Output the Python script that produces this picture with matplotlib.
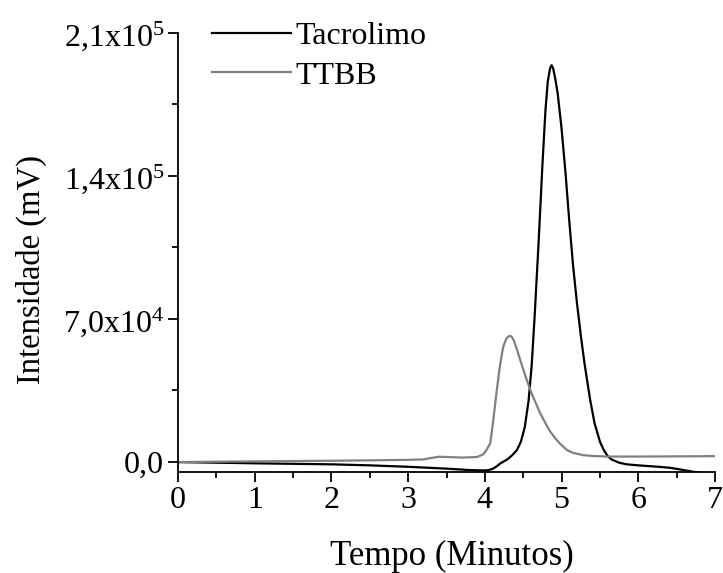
import matplotlib
matplotlib.use("Agg")
import matplotlib.pyplot as plt
from matplotlib.ticker import MultipleLocator

plt.rcParams['font.family'] = ['Liberation Serif', 'DejaVu Serif']
plt.rcParams['mathtext.fontset'] = 'custom'
plt.rcParams['mathtext.rm'] = 'Liberation Serif'
plt.rcParams['mathtext.it'] = 'Liberation Serif:italic'

# Tacrolimo (black)
tac_t = [0.0, 0.5, 1.0, 1.5, 2.0, 2.5, 3.0, 3.5, 3.8, 4.0, 4.05, 4.1, 4.15, 4.2, 4.3, 4.36, 4.42,
         4.47, 4.52, 4.57, 4.61, 4.65, 4.70, 4.75, 4.79, 4.82, 4.85, 4.87, 4.89, 4.92,
         4.95, 5.00, 5.05, 5.10, 5.15, 5.20, 5.25, 5.30, 5.37, 5.43, 5.50, 5.55, 5.60,
         5.65, 5.75, 5.85, 6.0, 6.15, 6.3, 6.41, 6.5, 6.59, 6.71, 6.85, 7.0]
tac_v = [0, -300, -600, -850, -1100, -1600, -2300, -3200, -3900, -4100, -3900, -3300, -2200, -700, 1500, 3500, 6000,
         10000, 17000, 30000, 47000, 72000, 107000, 145000, 172000, 186000, 192500, 194000, 192500, 187000,
         180000, 163000, 142000, 118000, 96000, 78000, 62000, 48000, 31000, 19000, 10000, 5900, 3000,
         1300, -300, -1100, -1600, -2000, -2400, -2800, -3300, -3900, -4700, -5300, -5600]

# TTBB (gray)
ttbb_t = [0.0, 0.5, 1.0, 1.5, 2.0, 2.5, 3.0, 3.2, 3.3, 3.4, 3.5, 3.7, 3.9, 3.98, 4.02,
          4.07, 4.11, 4.155, 4.2, 4.24, 4.28, 4.31, 4.33, 4.35, 4.38, 4.42, 4.46, 4.52,
          4.59, 4.65, 4.72, 4.79, 4.85, 4.92, 4.98, 5.07, 5.15, 5.28, 5.4, 5.6, 6.0,
          6.5, 7.0]
ttbb_v = [0, 200, 350, 500, 650, 850, 1100, 1300, 2000, 2600, 2500, 2200, 2500, 3800, 5900,
          9100, 20500, 35000, 48000, 56500, 60300, 61500, 61700, 61300, 59200, 54800, 50000, 43000,
          35500, 30000, 24000, 19000, 15000, 11500, 9000, 5900, 4500, 3400, 3000, 2700, 2700,
          2800, 2900]

xticks = [0, 1, 2, 3, 4, 5, 6, 7]
xtick_labels = ['0', '1', '2', '3', '4', '5', '6', '7']
yticks = [0, 70000, 140000, 210000]
ytick_labels = ['0,0', '7,0x10$^4$', '1,4x10$^5$', '2,1x10$^5$']

fig = plt.figure(figsize=(7.23, 5.73), dpi=100)
ax = fig.add_axes([178/723, 1 - 471.7/573, (715 - 178)/723, (471.7 - 32.5)/573])

ax.plot(tac_t, tac_v, color='black', lw=1.6, label='Tacrolimo')
ax.plot(ttbb_t, ttbb_v, color='#808080', lw=1.6, label='TTBB')

ax.set_xlim(0, 7)
ax.set_ylim(-4700, 210000)

for s in ['top', 'right']:
    ax.spines[s].set_visible(False)
for s in ['left', 'bottom']:
    ax.spines[s].set_linewidth(1.3)

ax.set_xticks(xticks)
ax.set_xticklabels(xtick_labels)
ax.set_yticks(yticks)
ax.set_yticklabels(ytick_labels)
ax.xaxis.set_minor_locator(MultipleLocator(0.5))
ax.yaxis.set_minor_locator(MultipleLocator(35000))
ax.tick_params(which='major', direction='out', length=7, width=1.3, labelsize=23, pad=3)
ax.tick_params(which='minor', direction='out', length=4, width=1.3)

ax.set_xlabel('Tempo (Minutos)', fontsize=25)
ax.set_ylabel('Intensidade (mV)', fontsize=23.5)
ax.xaxis.set_label_coords(0.51, -0.155)
ax.yaxis.set_label_coords(-0.244, 0.4615)

leg = ax.legend(loc='upper left', bbox_to_anchor=(0.04, 1.054), frameon=False,
                fontsize=23, handlelength=2.45, handletextpad=0.15, labelspacing=0.32,
                borderaxespad=0)

fig.savefig('out.png', dpi=100)
